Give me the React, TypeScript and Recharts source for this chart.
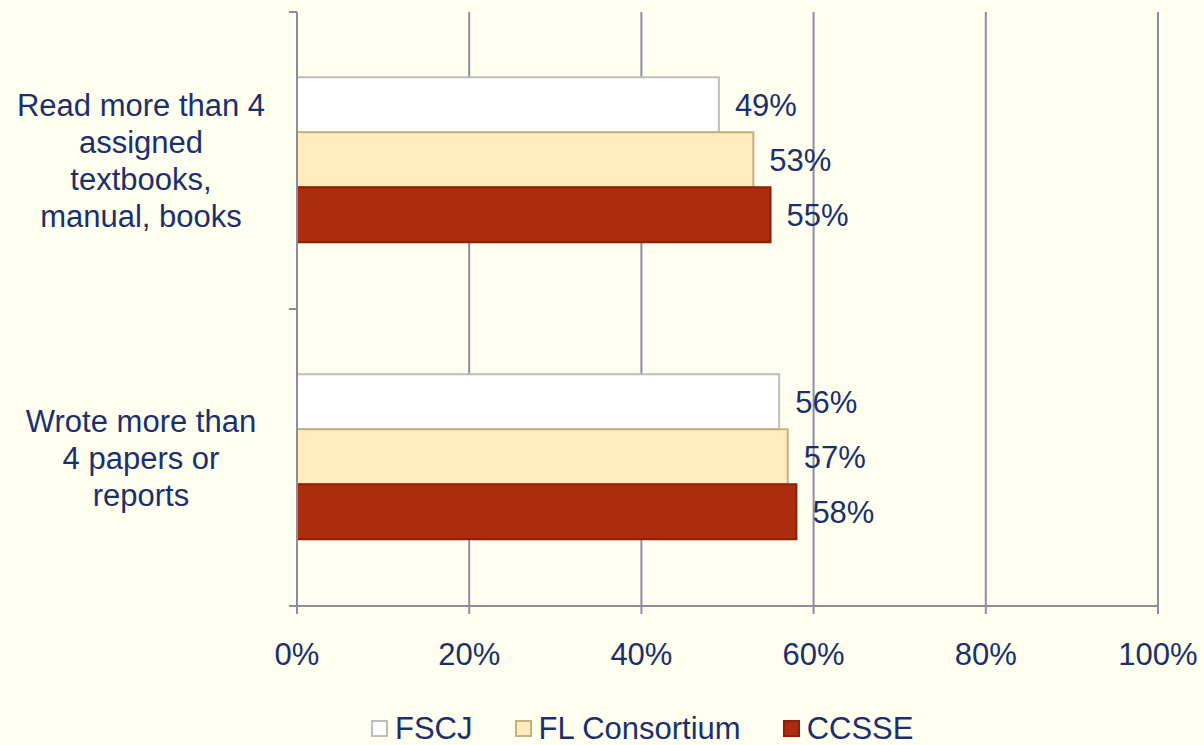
import React from 'react';
import {
  BarChart,
  Bar,
  XAxis,
  YAxis,
  CartesianGrid,
  Legend,
  LabelList,
} from 'recharts';

const categories = [
  'Read more than 4\nassigned\ntextbooks,\nmanual, books',
  'Wrote more than\n4 papers or\nreports',
];
const fscj = [49, 56];
const flConsortium = [53, 57];
const ccsse = [55, 58];
const xTicks = [0, 20, 40, 60, 80, 100];

const seriesNames = ['FSCJ', 'FL Consortium', 'CCSSE'];

const data = categories.map((c, i) => ({
  name: c,
  fscj: fscj[i],
  fl: flConsortium[i],
  ccsse: ccsse[i],
}));

const TEXT = '#1c2f6d';
const GRID = '#8b8ca0';
const FONT = '"Liberation Sans", Arial, sans-serif';
const FS = 31;

const W = 1204;
const H = 745;
const PLOT_TOP = 12;
const PLOT_BOTTOM = 606;
const AXIS_X = 297;

const colors = [
  { fill: '#ffffff', stroke: '#bdbdbd' },
  { fill: '#ffedbd', stroke: '#c6b07e' },
  { fill: '#ab2d0d', stroke: '#8c1f05' },
];

function CategoryTick(props: any) {
  const { y, payload } = props;
  const lines = String(payload.value).split('\n');
  const lh = 37;
  const start = y - ((lines.length - 1) * lh) / 2 + 11;
  const half = (PLOT_BOTTOM - PLOT_TOP) / categories.length / 2;
  return (
    <g>
      <line x1={AXIS_X - 8} x2={AXIS_X} y1={y - half} y2={y - half} stroke={GRID} strokeWidth={2} />
      <line x1={AXIS_X - 8} x2={AXIS_X} y1={y + half} y2={y + half} stroke={GRID} strokeWidth={2} />
      <text textAnchor="middle" fill={TEXT} fontSize={FS} fontFamily={FONT}>
        {lines.map((l, i) => (
          <tspan key={i} x={141} y={start + i * lh}>
            {l}
          </tspan>
        ))}
      </text>
    </g>
  );
}

function LegendContent() {
  return (
    <div
      style={{
        display: 'flex',
        alignItems: 'center',
        height: 50,
        paddingLeft: 371,
        paddingTop: 16,
        boxSizing: 'border-box',
        fontFamily: FONT,
        fontSize: FS,
        color: TEXT,
        lineHeight: 1,
      }}
    >
      {seriesNames.map((n, i) => (
        <div key={n} style={{ display: 'flex', alignItems: 'center', marginRight: 42 }}>
          <span
            style={{
              display: 'inline-block',
              width: 13,
              height: 13,
              background: colors[i].fill,
              border: `2px solid ${colors[i].stroke}`,
              marginRight: 7,
            }}
          />
          <span>{n}</span>
        </div>
      ))}
    </div>
  );
}

export default function App() {
  const labelStyle = { fill: TEXT, fontSize: FS, fontFamily: FONT };
  return (
    <div style={{ position: 'absolute', left: 0, top: 0, width: W, height: H, background: '#fffff0' }}>
      <style>{'body{margin:0}'}</style>
      <BarChart
        width={W}
        height={H}
        data={data}
        layout="vertical"
        margin={{ top: PLOT_TOP, right: W - 1158, left: 0, bottom: 0 }}
        barCategoryGap="22%"
        barGap={0}
      >
        <CartesianGrid horizontal={false} stroke={GRID} strokeWidth={2} />
        <XAxis
          type="number"
          domain={[0, 100]}
          ticks={xTicks}
          tickFormatter={(v) => `${v}%`}
          height={89}
          tickSize={8}
          tickMargin={29}
          tick={{ fill: TEXT, fontSize: FS, fontFamily: FONT }}
          axisLine={{ stroke: GRID, strokeWidth: 2 }}
          tickLine={{ stroke: GRID, strokeWidth: 2 }}
          interval={0}
        />
        <YAxis
          type="category"
          dataKey="name"
          width={AXIS_X}
          tick={<CategoryTick />}
          tickLine={false}
          axisLine={{ stroke: GRID, strokeWidth: 2 }}
          interval={0}
        />
        <Legend
          verticalAlign="bottom"
          content={<LegendContent />}
          wrapperStyle={{ left: 0, top: 695, width: W, height: 50 }}
        />
        <Bar dataKey="fscj" name={seriesNames[0]} fill={colors[0].fill} stroke={colors[0].stroke} strokeWidth={2} isAnimationActive={false}>
          <LabelList dataKey="fscj" position="right" offset={16} formatter={(v: any) => `${v}%`} style={labelStyle} />
        </Bar>
        <Bar dataKey="fl" name={seriesNames[1]} fill={colors[1].fill} stroke={colors[1].stroke} strokeWidth={2} isAnimationActive={false}>
          <LabelList dataKey="fl" position="right" offset={16} formatter={(v: any) => `${v}%`} style={labelStyle} />
        </Bar>
        <Bar dataKey="ccsse" name={seriesNames[2]} fill={colors[2].fill} stroke={colors[2].stroke} strokeWidth={2} isAnimationActive={false}>
          <LabelList dataKey="ccsse" position="right" offset={16} formatter={(v: any) => `${v}%`} style={labelStyle} />
        </Bar>
      </BarChart>
    </div>
  );
}
